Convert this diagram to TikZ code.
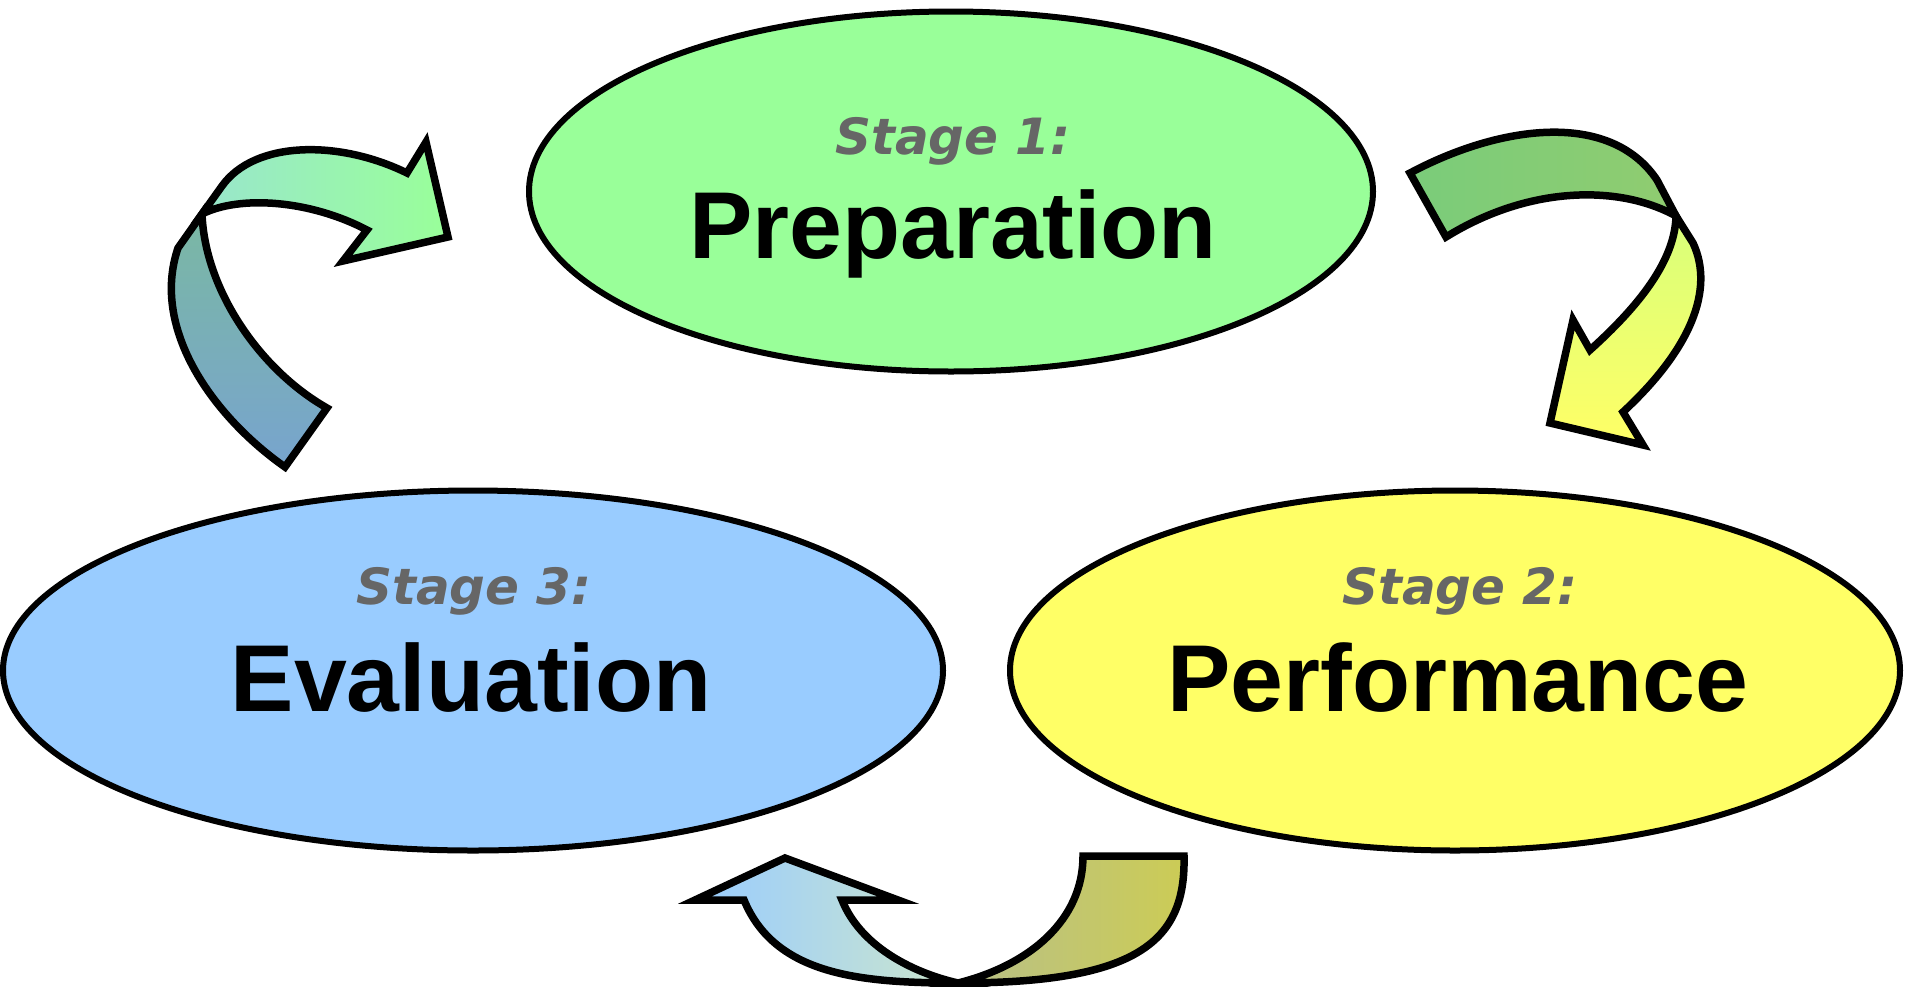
\documentclass[tikz,border=0pt]{standalone}
\usepackage{fontspec}
\setmainfont{Liberation Sans}
\newfontfamily\stagefont{DejaVu Sans}
\usetikzlibrary{shapes.geometric}

\definecolor{prepgreen}{HTML}{99FF99}
\definecolor{perfyellow}{HTML}{FFFF66}
\definecolor{evalblue}{HTML}{99CCFF}
\definecolor{stagegray}{HTML}{666666}
\definecolor{tlbackA}{HTML}{7AB8A3}
\definecolor{tlbackB}{HTML}{78A4CE}
\definecolor{tlfront}{HTML}{99E6CC}
\definecolor{rbackA}{HTML}{7ACC7A}
\definecolor{rbackB}{HTML}{90CC70}
\definecolor{rfront}{HTML}{D8FF7A}
\definecolor{bbackA}{HTML}{B8C088}
\definecolor{bbackB}{HTML}{CCCC55}
\definecolor{bfront}{HTML}{CCE6CC}

\begin{document}
\begin{tikzpicture}[x=1pt, y=-1pt,
  stage/.style={
    ellipse, draw=black, line width=6pt, inner sep=0pt,
    minimum width=#1, minimum height=360pt
  },
  stagelbl/.style={anchor=base, text=stagegray,
    font=\stagefont\bfseries\itshape\fontsize{50}{56}\selectfont},
  maintxt/.style={anchor=base, font=\bfseries\fontsize{95}{100}\selectfont},
  band/.style={draw=black, line width=7.5pt, line join=miter},
]
\useasboundingbox (0,0) rectangle (1907,986);

%% Stages
\node[stage=844pt, fill=prepgreen] (prep) at (951,191.5) {};
\node[stage=940pt, fill=evalblue] (eval) at (473,670.5) {};
\node[stage=890pt, fill=perfyellow] (perf) at (1455,670.5) {};

\node[stagelbl] (prep-lbl) at (953,154.5) {Stage 1:};
\node[maintxt] (prep-txt) at (953,258) {Preparation};
\node[stagelbl] (perf-lbl) at (1460,604.5) {Stage 2:};
\node[maintxt] (perf-txt) at (1458,711.5) {Performance};
\node[stagelbl] (eval-lbl) at (474,604.5) {Stage 3:};
\node[maintxt] (eval-txt) at (471,711.5) {Evaluation};

%% Arrow: evaluation -> preparation
\path[band, top color=tlbackA, bottom color=tlbackB]
  (285,467) .. controls (215,418) and (150,330) .. (178,248)
  -- (202,214)
  .. controls (205,290) and (260,370) .. (327,408)
  -- cycle;
\path[band, left color=tlfront, right color=prepgreen]
  (202,214) -- (222,186)
  .. controls (255,140) and (340,140) .. (407,173)
  -- (426,142) -- (448,237) -- (343,261) -- (367,230)
  .. controls (310,200) and (240,195) .. (202,214)
  -- cycle;

%% Arrow: preparation -> performance
\path[band, left color=rbackA, right color=rbackB]
  (1410,173) .. controls (1500,125) and (1610,110) .. (1657,180)
  -- (1676,216)
  .. controls (1620,185) and (1530,185) .. (1446,237)
  -- cycle;
\path[band, top color=rfront, bottom color=perfyellow]
  (1676,216) -- (1693,243)
  .. controls (1715,290) and (1690,350) .. (1623,412)
  -- (1643,445) -- (1550,423) -- (1573,320) -- (1590,350)
  .. controls (1640,305) and (1675,260) .. (1676,216)
  -- cycle;

%% Arrow: performance -> evaluation
\path[band, left color=bbackA, right color=bbackB]
  (1083,856) -- (1184,856)
  .. controls (1186,940) and (1140,983) .. (958,983)
  .. controls (1030,965) and (1083,920) .. (1083,856)
  -- cycle;
\path[band, left color=evalblue, right color=bfront]
  (958,983) .. controls (910,972) and (860,945) .. (842,900)
  -- (898,900) -- (785,858) -- (695,900) -- (744,900)
  .. controls (775,975) and (860,983) .. (958,983)
  -- cycle;

\end{tikzpicture}
\end{document}
